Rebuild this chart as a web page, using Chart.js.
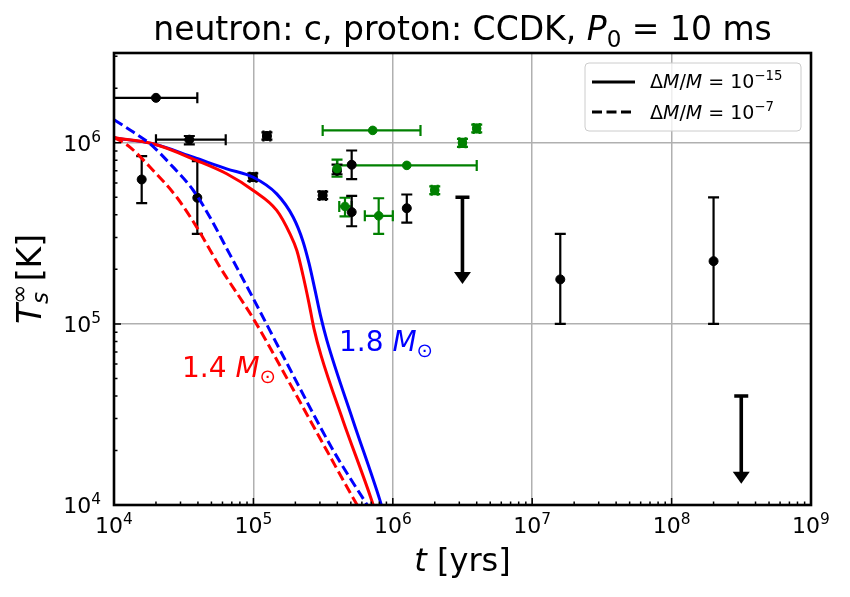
<!DOCTYPE html>
<html>
<head>
<meta charset="utf-8">
<script src="https://cdn.jsdelivr.net/npm/chart.js@4.4.0/dist/chart.umd.min.js"></script>
<style>
  html, body { margin: 0; padding: 0; background: #fff; }
  #wrap { width: 850px; height: 597px; }
</style>
</head>
<body>
<div id="wrap"><canvas id="cool" width="850" height="597"></canvas></div>
<script>
// axis ticks
const xTicks = [1e4, 1e5, 1e6, 1e7, 1e8, 1e9];
const yTicks = [1e4, 1e5, 1e6];

// cooling curves (t in yrs, Ts in K)
const tBlueSolid = [1e4, 1.91e4, 3.71e4, 6.43e4, 9.98e4, 1.47e5, 1.93e5, 2.26e5, 2.51e5, 2.77e5, 3.03e5, 3.37e5, 5.18e5, 8.09e5, 8.5e5];
const TBlueSolid = [1.063e6, 9.87e5, 8.32e5, 7.18e5, 6.45e5, 5.22e5, 3.88e5, 2.88e5, 2.15e5, 1.53e5, 1.11e5, 8.09e4, 2.93e4, 1.06e4, 9.3e3];
const tRedSolid = [1e4, 1.91e4, 3.92e4, 6.43e4, 9.98e4, 1.47e5, 1.83e5, 2.05e5, 2.27e5, 2.51e5, 2.72e5, 3.06e5, 4.39e5, 7.06e5, 7.45e5];
const TRedSolid = [1.066e6, 9.87e5, 7.98e5, 6.74e5, 5.45e5, 4.23e5, 3.14e5, 2.54e5, 1.85e5, 1.29e5, 9.42e4, 6.68e4, 2.93e4, 1.06e4, 9.3e3];
const tBlueDash = [1e4, 1.375e4, 1.81e4, 2.52e4, 3.71e4, 4.88e4, 6.43e4, 9.98e4, 1.73e5, 3.74e5, 6.5e5, 7.1e5];
const TBlueDash = [1.34e6, 1.145e6, 9.87e5, 7.66e5, 5.45e5, 3.88e5, 2.61e5, 1.38e5, 6.11e4, 2.0e4, 1.01e4, 9.06e3];
const tRedDash = [1e4, 1.3e4, 1.91e4, 2.82e4, 3.92e4, 5.75e4, 9.98e4, 1.73e5, 3.36e5, 5.51e5, 6.01e5];
const TRedDash = [1.074e6, 9.46e5, 7.03e5, 5.0e5, 3.42e5, 2.06e5, 1.07e5, 5.05e4, 2.0e4, 1.01e4, 9.06e3];

// black observations: age, age range, temperature, temperature range (null = no bar)
const bT    = [2.0e4, 3.47e4, 1.25e5, 1.58e4, 3.96e4, 9.9e4, 3.14e5, 3.98e5, 5.07e5, 5.07e5, 1.26e6, 1.59e7, 2.0e8];
const bTLo  = [7e3, 2.0e4, 1.18e5, null, null, 9.4e4, 2.98e5, null, null, null, null, null, null];
const bTHi  = [3.96e4, 6.33e4, 1.32e5, null, null, 1.05e5, 3.31e5, null, null, null, null, null, null];
const bTs   = [1.77e6, 1.04e6, 1.09e6, 6.27e5, 4.97e5, 6.46e5, 5.12e5, 7.0e5, 7.56e5, 4.14e5, 4.35e5, 1.76e5, 2.22e5];
const bTsLo = [null, 9.8e5, 1.04e6, 4.64e5, 3.14e5, 6.15e5, 4.88e5, 6.7e5, 6.3e5, 3.46e5, 3.62e5, 1e5, 1e5];
const bTsHi = [null, 1.09e6, 1.14e6, 8.44e5, 7.91e5, 6.78e5, 5.37e5, 7.58e5, 9.06e5, 5.09e5, 5.18e5, 3.14e5, 5e5];

// green observations
const gT    = [3.98e5, 7.18e5, 1.26e6, 3.16e6, 4.0e6, 2.0e6, 4.54e5, 7.92e5];
const gTLo  = [null, 3.14e5, 4.0e5, 3.0e6, 3.8e6, 1.9e6, 4.13e5, 6.3e5];
const gTHi  = [null, 1.58e6, 4.0e6, 3.33e6, 4.2e6, 2.1e6, 5.07e5, 1.0e6];
const gTs   = [7.2e5, 1.17e6, 7.5e5, 1.0e6, 1.2e6, 5.47e5, 4.45e5, 3.95e5];
const gTsLo = [6.5e5, null, null, 0.95e6, 1.14e6, 5.2e5, 3.92e5, 3.14e5];
const gTsHi = [8.06e5, null, null, 1.05e6, 1.26e6, 5.75e5, 4.97e5, 4.94e5];

// upper limits
const ulT   = [3.16e6, 3.16e8];
const ulTop = [5e5, 4e4];
const ulTip = [1.66e5, 1.31e4];

const FONT = '"DejaVu Sans", sans-serif';

function pts(xs, ys) {
    return xs.map((x, i) => ({ x: x, y: ys[i] }));
}

// draw text made of parts; part = {t, it, sup, sub, hold}
function richText(ctx, parts, x, y, size, align, color) {
    const small = size * 0.7;
    const fontOf = p => (p.it ? 'italic ' : '') + ((p.sup || p.sub) ? small : size) + 'px ' + FONT;
    let w = 0;
    parts.forEach(p => {
        ctx.font = fontOf(p);
        if (!p.hold) w += ctx.measureText(p.t).width;
    });
    let cx = align === 'center' ? x - w / 2 : (align === 'right' ? x - w : x);
    ctx.fillStyle = color || '#000';
    ctx.textAlign = 'left';
    ctx.textBaseline = 'alphabetic';
    parts.forEach(p => {
        ctx.font = fontOf(p);
        let dy = 0;
        if (p.sup) dy = -size * 0.42;
        if (p.sub) dy = size * 0.2;
        ctx.fillText(p.t, cx, y + dy);
        if (!p.hold) cx += ctx.measureText(p.t).width;
    });
}

const errorBars = {
    id: 'errorBars',
    beforeDatasetsDraw(chart) {
        const ctx = chart.ctx, a = chart.chartArea;
        const xs = chart.scales.x, ys = chart.scales.y;
        ctx.save();
        ctx.beginPath();
        ctx.rect(a.left, a.top, a.right - a.left, a.bottom - a.top);
        ctx.clip();
        const draw = (T, TLo, THi, Ts, TsLo, TsHi, color) => {
            ctx.strokeStyle = color;
            ctx.lineWidth = 2.2;
            T.forEach((t, i) => {
                const px = xs.getPixelForValue(t), py = ys.getPixelForValue(Ts[i]);
                const cap = 5.5;
                if (TLo[i] !== null) {
                    const x0 = xs.getPixelForValue(TLo[i]), x1 = xs.getPixelForValue(THi[i]);
                    ctx.beginPath();
                    ctx.moveTo(x0, py); ctx.lineTo(x1, py);
                    ctx.moveTo(x0, py - cap); ctx.lineTo(x0, py + cap);
                    ctx.moveTo(x1, py - cap); ctx.lineTo(x1, py + cap);
                    ctx.stroke();
                }
                if (TsLo[i] !== null) {
                    const y0 = ys.getPixelForValue(TsLo[i]), y1 = ys.getPixelForValue(TsHi[i]);
                    ctx.beginPath();
                    ctx.moveTo(px, y0); ctx.lineTo(px, y1);
                    ctx.moveTo(px - cap, y0); ctx.lineTo(px + cap, y0);
                    ctx.moveTo(px - cap, y1); ctx.lineTo(px + cap, y1);
                    ctx.stroke();
                }
            });
        };
        draw(gT, gTLo, gTHi, gTs, gTsLo, gTsHi, '#008000');
        draw(bT, bTLo, bTHi, bTs, bTsLo, bTsHi, '#000');

        // upper limit arrows
        ctx.strokeStyle = '#000';
        ctx.fillStyle = '#000';
        ulT.forEach((t, i) => {
            const px = xs.getPixelForValue(t);
            const y0 = ys.getPixelForValue(ulTop[i]), y1 = ys.getPixelForValue(ulTip[i]);
            ctx.lineWidth = 3.6;
            ctx.beginPath();
            ctx.moveTo(px - 7, y0); ctx.lineTo(px + 7, y0);
            ctx.moveTo(px, y0); ctx.lineTo(px, y1 - 10);
            ctx.stroke();
            ctx.beginPath();
            ctx.moveTo(px - 8.5, y1 - 12);
            ctx.lineTo(px + 8.5, y1 - 12);
            ctx.lineTo(px, y1);
            ctx.closePath();
            ctx.fill();
        });
        ctx.restore();
    }
};

const decorations = {
    id: 'decorations',
    afterDraw(chart) {
        const ctx = chart.ctx, a = chart.chartArea;
        const xs = chart.scales.x, ys = chart.scales.y;
        ctx.save();

        // inward ticks on left and bottom
        ctx.strokeStyle = '#000';
        ctx.lineWidth = 1.5;
        ctx.beginPath();
        for (let e = 4; e < 9; e++) {
            for (let m = 1; m < 10; m++) {
                const px = xs.getPixelForValue(m * Math.pow(10, e));
                const len = m === 1 ? 7 : 3.5;
                ctx.moveTo(px, a.bottom); ctx.lineTo(px, a.bottom - len);
            }
        }
        for (let e = 4; e < 7; e++) {
            for (let m = 1; m < 10; m++) {
                const v = m * Math.pow(10, e);
                if (v > ys.max) break;
                const py = ys.getPixelForValue(v);
                const len = m === 1 ? 7 : 3.5;
                ctx.moveTo(a.left, py); ctx.lineTo(a.left + len, py);
            }
        }
        ctx.stroke();

        // spines
        ctx.lineWidth = 2.6;
        ctx.strokeRect(a.left, a.top, a.right - a.left, a.bottom - a.top);

        // tick labels
        xTicks.forEach(v => {
            const px = xs.getPixelForValue(v);
            richText(ctx, [{ t: '10' }, { t: String(Math.round(Math.log10(v))), sup: true }], px, a.bottom + 28, 22, 'center');
        });
        yTicks.forEach(v => {
            const py = ys.getPixelForValue(v);
            richText(ctx, [{ t: '10' }, { t: String(Math.round(Math.log10(v))), sup: true }], a.left - 13, py + 8, 22, 'right');
        });

        // title and axis labels
        richText(ctx, [{ t: 'neutron: c, proton: CCDK, ' }, { t: 'P', it: true }, { t: '0', sub: true }, { t: ' = 10 ms' }],
            (a.left + a.right) / 2, 40, 33, 'center');
        richText(ctx, [{ t: 't', it: true }, { t: ' [yrs]' }], (a.left + a.right) / 2, 571, 32, 'center');
        ctx.save();
        ctx.translate(41, (a.top + a.bottom) / 2);
        ctx.rotate(-Math.PI / 2);
        richText(ctx, [{ t: 'T', it: true }, { t: '∞', sup: true, hold: true }, { t: 's', sub: true, it: true }, { t: ' [K]' }], 0, 0, 33, 'center');
        ctx.restore();

        // curve labels
        richText(ctx, [{ t: '1.8 ' }, { t: 'M', it: true }, { t: '⊙', sub: true }], 339, 351, 28, 'left', '#0000ff');
        richText(ctx, [{ t: '1.4 ' }, { t: 'M', it: true }, { t: '⊙', sub: true }], 182, 377, 28, 'left', '#ff0000');

        // legend
        const lx = 585, ly = 63, lw = 216, lh = 68;
        ctx.fillStyle = 'rgba(255,255,255,0.8)';
        ctx.strokeStyle = '#cccccc';
        ctx.lineWidth = 1;
        ctx.beginPath();
        ctx.roundRect(lx, ly, lw, lh, 4);
        ctx.fill();
        ctx.stroke();
        ctx.strokeStyle = '#000';
        ctx.lineWidth = 3;
        ctx.beginPath();
        ctx.moveTo(592, 82); ctx.lineTo(635, 82);
        ctx.stroke();
        ctx.setLineDash([10, 4.5]);
        ctx.beginPath();
        ctx.moveTo(592, 112); ctx.lineTo(635, 112);
        ctx.stroke();
        ctx.setLineDash([]);
        const legendText = exp => [{ t: 'Δ' }, { t: 'M', it: true }, { t: '/' }, { t: 'M', it: true }, { t: ' = 10' }, { t: exp, sup: true }];
        richText(ctx, legendText('−15'), 650, 88, 19, 'left');
        richText(ctx, legendText('−7'), 650, 119, 19, 'left');

        ctx.restore();
    }
};

const lineSet = (xs, ys, color, dashed) => ({
    data: pts(xs, ys),
    showLine: true,
    borderColor: color,
    borderWidth: 3,
    borderDash: dashed ? [10, 4.5] : [],
    pointRadius: 0,
    fill: false,
    cubicInterpolationMode: 'monotone'
});

new Chart(document.getElementById('cool'), {
    type: 'scatter',
    data: {
        datasets: [
            lineSet(tRedDash, TRedDash, '#ff0000', true),
            lineSet(tBlueDash, TBlueDash, '#0000ff', true),
            lineSet(tRedSolid, TRedSolid, '#ff0000', false),
            lineSet(tBlueSolid, TBlueSolid, '#0000ff', false),
            {
                data: pts(gT, gTs),
                backgroundColor: '#008000',
                borderColor: '#008000',
                pointRadius: 4.3
            },
            {
                data: pts(bT, bTs),
                backgroundColor: '#000',
                borderColor: '#000',
                pointRadius: 4.5
            }
        ]
    },
    options: {
        responsive: false,
        animation: false,
        devicePixelRatio: 1,
        events: [],
        layout: { padding: { left: 114, right: 39, top: 53, bottom: 92 } },
        plugins: { legend: { display: false }, tooltip: { enabled: false } },
        scales: {
            x: {
                type: 'logarithmic',
                min: 1e4,
                max: 1e9,
                afterBuildTicks: s => { s.ticks = xTicks.map(v => ({ value: v })); },
                ticks: { display: false },
                grid: { color: '#b0b0b0', lineWidth: 1.5, drawTicks: false },
                border: { display: false }
            },
            y: {
                type: 'logarithmic',
                min: 1e4,
                max: 3.13e6,
                afterBuildTicks: s => { s.ticks = yTicks.map(v => ({ value: v })); },
                ticks: { display: false },
                grid: { color: '#b0b0b0', lineWidth: 1.5, drawTicks: false },
                border: { display: false }
            }
        }
    },
    plugins: [errorBars, decorations]
});
</script>
</body>
</html>
